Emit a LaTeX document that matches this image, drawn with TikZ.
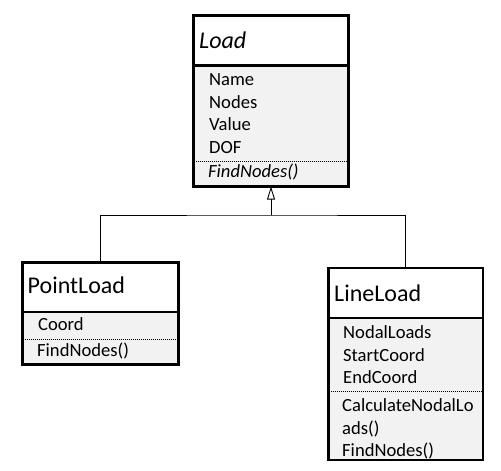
\documentclass[tikz,border=0pt]{standalone}
\usepackage{fontspec}
\setmainfont{Carlito}
\usetikzlibrary{arrows.meta}
\begin{document}
\begin{tikzpicture}[x=1pt,y=-1pt,
  boxpart/.style={draw,line width=2.5pt,anchor=north west,inner sep=0pt,outer sep=0pt},
  hdr/.style={boxpart,fill=white},
  bdy/.style={boxpart,fill=gray!10},
  ttl/.style={anchor=base west,inner sep=0pt,font=\fontsize{24}{28}\selectfont},
  itm/.style={anchor=base west,inner sep=0pt,font=\fontsize{18.6}{22}\selectfont},
  sepline/.style={line width=0.8pt,dash pattern=on 1pt off 1pt},
  conn/.style={line width=0.9pt},
  inh/.style={conn,-{Triangle[open,length=13pt,width=8pt,line width=0.9pt]}}
]
\useasboundingbox (0,0) rectangle (501,471);

% Load
\node[bdy,minimum width=155pt,minimum height=121pt] (loadb) at (193.5,65.5) {};
\node[hdr,minimum width=155pt,minimum height=49.8pt] (loadh) at (193.5,15.7) {};
\node[ttl] (loadt) at (199,48) {\itshape Load};
\node[itm] (l1) at (209,85.7) {Name};
\node[itm] (l2) at (209,108.3) {Nodes};
\node[itm] (l3) at (209,130.9) {Value};
\node[itm] (l4) at (209,153.5) {DOF};
\draw[sepline] (195.5,161) -- (346.5,161);
\node[itm] (l5) at (208,177.5) {\itshape FindNodes()};

% PointLoad
\node[bdy,minimum width=155.8pt,minimum height=52.5pt] (pointb) at (22.5,312) {};
\node[hdr,minimum width=155.8pt,minimum height=49.5pt] (pointh) at (22.5,262.5) {};
\node[ttl] (pointt) at (27.5,293) {PointLoad};
\node[itm] (p1) at (38,330.7) {Coord};
\draw[sepline] (24.5,339.5) -- (176.5,339.5);
\node[itm] (p2) at (37,356) {FindNodes()};

% LineLoad
\node[bdy,minimum width=154.5pt,minimum height=142pt] (lineb) at (328.5,318) {};
\node[hdr,minimum width=154.5pt,minimum height=50pt] (lineh) at (328.5,268) {};
\node[ttl] (linet) at (334,301) {LineLoad};
\node[itm] (n1) at (343,338.5) {NodalLoads};
\node[itm] (n2) at (343,361) {StartCoord};
\node[itm] (n3) at (343,383.5) {EndCoord};
\draw[sepline] (330.5,391) -- (481,391);
\node[itm] (n4) at (342,411.5) {CalculateNodalLo};
\node[itm] (n5) at (342,434) {ads()};
\node[itm] (n6) at (342,456.6) {FindNodes()};

% Inheritance
\coordinate (jn) at (271,215);
\draw[conn] (pointh.north) |- (jn) -| (lineh.north);
\draw[inh] (jn) -- (loadb.south);
\end{tikzpicture}
\end{document}
